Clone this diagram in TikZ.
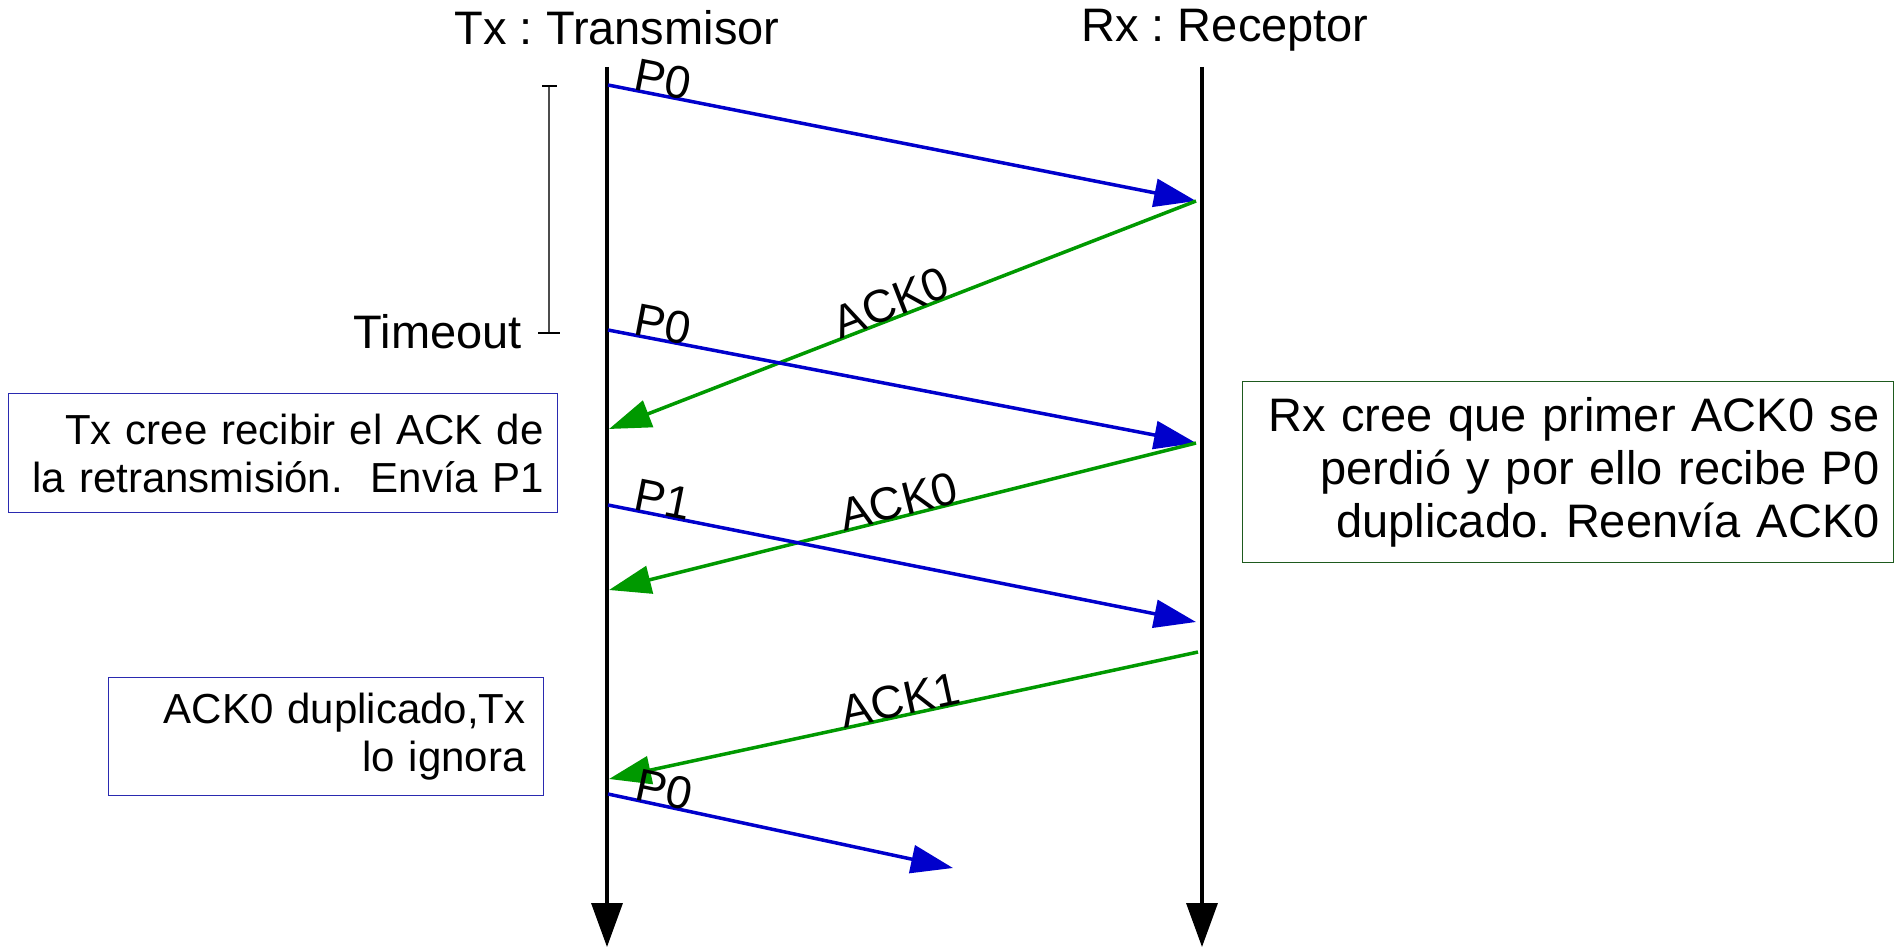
\documentclass[tikz,border=0pt]{standalone}
\usepackage{fontspec}
\setmainfont{Liberation Sans}
\usetikzlibrary{arrows.meta}
\frenchspacing
\definecolor{msgblue}{HTML}{0000CC}
\definecolor{ackgreen}{HTML}{009900}
\definecolor{boxblue}{HTML}{2A2AB0}
\definecolor{boxgreen}{HTML}{1E5A1E}
\tikzset{
  life/.style={line width=3.5pt, -{Triangle[length=44pt,width=31pt]}},
  msg/.style={msgblue, line width=3.5pt, -{Triangle[length=42pt,width=28pt]}},
  ack/.style={ackgreen, line width=3.5pt, -{Triangle[length=42pt,width=28pt]}},
  titletext/.style={font=\fontsize{47}{54}\selectfont, inner sep=0pt},
  lbl/.style={font=\fontsize{46}{52}\selectfont, inner sep=0pt, sloped, anchor=base},
  note/.style={draw, line width=1.2pt, align=right, anchor=north west, inner ysep=0pt},
}
\begin{document}
\begin{tikzpicture}[x=1pt,y=-1pt]
\useasboundingbox (0,0) rectangle (1895,947);

% titles
\node[titletext, anchor=base] (tx) at (617,45) {Tx : Transmisor};
\node[titletext, anchor=base] (rx) at (1225,42) {Rx : Receptor};

% lifelines
\coordinate (txtop) at (607,67);
\coordinate (txbot) at (607,947);
\coordinate (rxtop) at (1202,67);
\coordinate (rxbot) at (1202,947);
\draw[life] (txtop) -- (txbot);
\draw[life] (rxtop) -- (rxbot);

% timeout bracket
\coordinate (tot) at (549,86);
\coordinate (tob) at (549,333);
\draw[black!70, line width=1.2pt] (tot) -- (tob);
\draw[line width=1.8pt] ([xshift=-7pt]tot) -- ([xshift=8pt]tot);
\draw[line width=1.8pt] ([xshift=-11pt]tob) -- ([xshift=11pt]tob);
\node[titletext, anchor=base east] (timeout) at (522,348) {Timeout};

% message end points
\coordinate (t1) at (608,85);
\coordinate (r1) at (1196,201);
\coordinate (t2) at (609,429);
\coordinate (t3) at (608,330);
\coordinate (r2) at (1196,443);
\coordinate (t4) at (609,590);
\coordinate (t5) at (608,505);
\coordinate (r3) at (1196,622);
\coordinate (r4) at (1198,652);
\coordinate (t6) at (609,779);
\coordinate (t7) at (608,794);
\coordinate (e7) at (953,868);

% messages
\draw[msg] (t1) -- (r1);
\path (t1) -- (r1) node[lbl, pos=0.089] (lp1) {P0};
\draw[ack] (r1) -- (t2);
\path (t2) -- (r1) node[lbl, pos=0.49] (la1) {ACK0};

\draw[msg] (t3) -- (r2);
\path (t3) -- (r2) node[lbl, pos=0.089] (lp2) {P0};
\draw[ack] (r2) -- (t4);
\path (t4) -- (r2) node[lbl, pos=0.5] (la2) {ACK0};

\draw[msg] (t5) -- (r3);
\path (t5) -- (r3) node[lbl, pos=0.089] (lp3) {P1};
\draw[ack] (r4) -- (t6);
\path (t6) -- (r4) node[lbl, pos=0.5] (la3) {ACK1};

\draw[msg] (t7) -- (e7);
\path (t7) -- (e7) node[lbl, pos=0.154] (lp4) {P0};

% notes
\node[note, draw=boxblue, font=\fontsize{42}{48}\selectfont,
      minimum width=549pt, minimum height=119pt, inner xsep=14pt, text width=521pt]
      (txnote) at (8,393) {Tx cree recibir el ACK de\\la retransmisión.\ \ Envía P1};
\node[note, draw=boxblue, font=\fontsize{42}{48}\selectfont,
      minimum width=435pt, minimum height=118pt, inner xsep=18pt, text width=399pt]
      (dupnote) at (108,677) {ACK0 duplicado,Tx\\lo ignora};
\node[note, draw=boxgreen, font=\fontsize{47}{53}\selectfont,
      minimum width=651pt, minimum height=181pt, inner xsep=14pt, text width=623pt]
      (rxnote) at (1242,381) {Rx cree que primer ACK0 se\\perdió y por ello recibe P0\\duplicado. Reenvía ACK0};
\end{tikzpicture}
\end{document}
